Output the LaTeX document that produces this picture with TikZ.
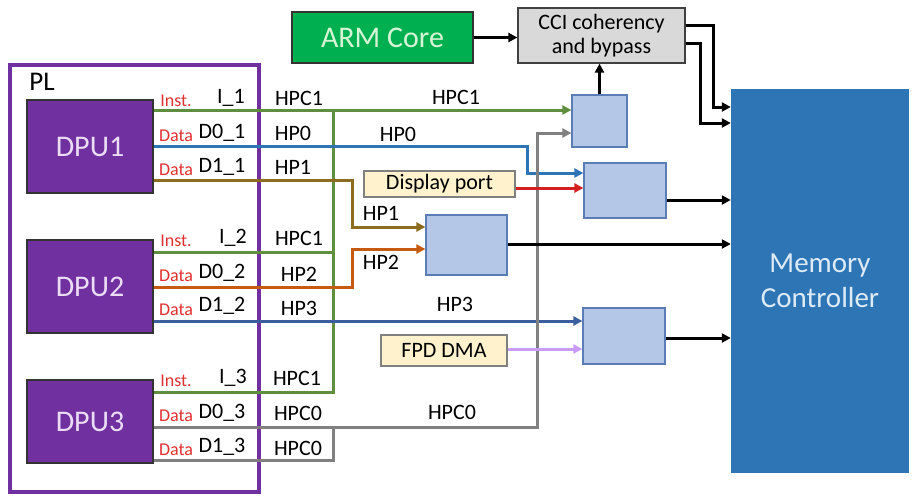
\documentclass[tikz,border=0pt]{standalone}
\usepackage{fontspec}
\setmainfont{Carlito}
\usetikzlibrary{arrows.meta}
\definecolor{plpurple}{HTML}{7030A0}
\definecolor{dputext}{HTML}{EBDDF5}
\definecolor{tagred}{HTML}{E03030}
\definecolor{wgreen}{HTML}{5E8E3E}
\definecolor{wblue}{HTML}{2E75B6}
\definecolor{wblue2}{HTML}{3A5E9E}
\definecolor{wbrown}{HTML}{8C6D1F}
\definecolor{worange}{HTML}{C55A11}
\definecolor{wgray}{HTML}{808080}
\definecolor{wred}{HTML}{D42020}
\definecolor{wlav}{HTML}{C89BF5}
\definecolor{sfill}{HTML}{B4C7E7}
\definecolor{sdraw}{HTML}{5B7DB5}
\definecolor{memfill}{HTML}{2E75B6}
\definecolor{memtext}{HTML}{DDEBF7}
\definecolor{armfill}{HTML}{00B050}
\definecolor{armtext}{HTML}{D5F5D5}
\definecolor{ccifill}{HTML}{D9D9D9}
\definecolor{yfill}{HTML}{FFF2CC}
\tikzset{
  lbl/.style={font=\fontsize{22}{25}\selectfont, inner sep=0pt},
  tag/.style={font=\fontsize{18}{21}\selectfont, text=tagred, inner sep=0pt},
  sbox/.style={draw=sdraw, fill=sfill, line width=1.2pt, inner sep=0pt},
  dpubox/.style={draw=black!80, fill=plpurple, line width=1.2pt, text=dputext,
    font=\fontsize{30}{34}\selectfont, minimum width=126pt},
  ybox/.style={draw=wgray, fill=yfill, line width=1.2pt, inner sep=0pt,
    font=\fontsize{22}{26}\selectfont},
  wire/.style={line width=3pt},
  arr/.style={-{Triangle[length=9pt,width=9pt]}},
}
\begin{document}
\begin{tikzpicture}[x=1pt,y=-1pt]
\useasboundingbox (0,0) rectangle (913,498);
% PL frame
\node[draw=plpurple, line width=4pt, minimum width=249pt, minimum height=427pt, inner sep=0pt] (pl) at (134.5,278.5) {};
\node[font=\fontsize{27}{30}\selectfont, inner sep=0pt] (pllbl) at (42,82) {PL};
% DPUs
\node[dpubox, minimum height=93pt] (dpu1) at (90,146.5) {DPU1};
\node[dpubox, minimum height=93pt] (dpu2) at (90,286.5) {DPU2};
\node[dpubox, minimum height=83pt] (dpu3) at (90,421.5) {DPU3};
% top blocks
\node[draw=black!80, fill=armfill, line width=1.2pt, text=armtext, font=\fontsize{30}{34}\selectfont,
  minimum width=181pt, minimum height=51pt, inner sep=0pt] (arm) at (382.5,37.5) {ARM Core};
\node[draw=black!75, fill=ccifill, line width=1.2pt, font=\fontsize{22}{24}\selectfont, align=center,
  minimum width=167pt, minimum height=55pt, inner sep=0pt] (cci) at (601.5,35.5) {CCI coherency\\and bypass};
% memory controller
\node[fill=memfill, text=memtext, font=\fontsize{29}{35}\selectfont, align=center,
  minimum width=178pt, minimum height=384pt, inner sep=0pt] (mem) at (820,281) {Memory\\Controller};
% small port boxes
\node[sbox, minimum width=55pt, minimum height=52pt] (boxA) at (599.5,121) {};
\node[sbox, minimum width=82pt, minimum height=55pt] (boxB) at (625,190.5) {};
\node[sbox, minimum width=81pt, minimum height=60pt] (boxC) at (466.5,245) {};
\node[sbox, minimum width=82pt, minimum height=56pt] (boxD) at (624,336) {};
% yellow sources
\node[ybox, minimum width=151pt, minimum height=26pt] (dp) at (439.5,184) {Display port};
\node[ybox, minimum width=126pt, minimum height=31pt] (fpd) at (444,350.5) {FPD DMA};
% junction coordinates
\coordinate (gj1) at (333,110);
\coordinate (gj3) at (333,392);
\coordinate (gj2) at (333,252);
\coordinate (bj1) at (527,146);
\coordinate (bj2) at (527,173);
\coordinate (hp1a) at (352,180);
\coordinate (hp1b) at (352,227);
\coordinate (hp2a) at (352,287);
\coordinate (hp2b) at (352,249);
\coordinate (gy1) at (537,427);
\coordinate (gy2) at (537,133);
\coordinate (gy3) at (333,460);
\coordinate (gy4) at (333,427);
% green HPC1
\draw[wire, wgreen, arr] (dpu1.east |- gj1) -- (boxA.west |- gj1);
\draw[wire, wgreen] (dpu2.east |- gj2) -- (gj2);
\draw[wire, wgreen] (dpu3.east |- gj3) -- (gj3) -- (gj1);
% blue HP0
\draw[wire, wblue, arr] (dpu1.east |- bj1) -- (bj1) -- (bj2) -- (boxB.west |- bj2);
% brown HP1
\draw[wire, wbrown, arr] (dpu1.east |- hp1a) -- (hp1a) -- (hp1b) -- (boxC.west |- hp1b);
% orange HP2
\draw[wire, worange, arr] (dpu2.east |- hp2a) -- (hp2a) -- (hp2b) -- (boxC.west |- hp2b);
% blue HP3
\coordinate (hp3) at (0,321);
\draw[wire, wblue2, arr] (dpu2.east |- hp3) -- (boxD.west |- hp3);
% gray HPC0
\draw[wire, wgray, arr] (dpu3.east |- gy1) -- (gy1) -- (gy2) -- (boxA.west |- gy2);
\draw[wire, wgray] (dpu3.east |- gy3) -- (gy3) -- (gy4);
% display port and FPD
\coordinate (dpy) at (0,188);
\draw[wire, wred, arr] (dp.east |- dpy) -- (boxB.west |- dpy);
\coordinate (fpy) at (0,349);
\draw[wire, wlav, arr] (fpd.east |- fpy) -- (boxD.west |- fpy);
% black connectors
\draw[wire, black, arr] (arm.east) -- (cci.west |- arm.east);
\draw[wire, black, arr] (boxA.north) -- (boxA.north |- cci.south);
\coordinate (c1a) at (713,25);
\coordinate (c1b) at (713,107);
\coordinate (c2a) at (700,43);
\coordinate (c2b) at (700,123);
\draw[wire, black, arr] (cci.east |- c1a) -- (c1a) -- (c1b) -- (mem.west |- c1b);
\draw[wire, black, arr] (cci.east |- c2a) -- (c2a) -- (c2b) -- (mem.west |- c2b);
\coordinate (ob) at (0,200);
\coordinate (oc) at (0,244);
\coordinate (od) at (0,338);
\draw[wire, black, arr] (boxB.east |- ob) -- (mem.west |- ob);
\draw[wire, black, arr] (boxC.east |- oc) -- (mem.west |- oc);
\draw[wire, black, arr] (boxD.east |- od) -- (mem.west |- od);
% DPU port labels
\node[tag] (t11) at (176,101) {Inst.};
\node[lbl] (n11) at (231,98) {I\_1};
\node[lbl] (h11) at (299,98) {HPC1};
\node[tag] (t12) at (176,136) {Data};
\node[lbl] (n12) at (222,133) {D0\_1};
\node[lbl] (h12) at (293,133) {HP0};
\node[tag] (t13) at (176,170) {Data};
\node[lbl] (n13) at (222,167) {D1\_1};
\node[lbl] (h13) at (293,167) {HP1};
\node[tag] (t21) at (176,241) {Inst.};
\node[lbl] (n21) at (233,238) {I\_2};
\node[lbl] (h21) at (299,238) {HPC1};
\node[tag] (t22) at (176,276) {Data};
\node[lbl] (n22) at (222,273) {D0\_2};
\node[lbl] (h22) at (299,274) {HP2};
\node[tag] (t23) at (176,310) {Data};
\node[lbl] (n23) at (222,306) {D1\_2};
\node[lbl] (h23) at (299,308) {HP3};
\node[tag] (t31) at (176,381) {Inst.};
\node[lbl] (n31) at (233,378) {I\_3};
\node[lbl] (h31) at (297,378) {HPC1};
\node[tag] (t32) at (176,416) {Data};
\node[lbl] (n32) at (222,413) {D0\_3};
\node[lbl] (h32) at (298,413) {HPC0};
\node[tag] (t33) at (176,450) {Data};
\node[lbl] (n33) at (222,447) {D1\_3};
\node[lbl] (h33) at (298,448) {HPC0};
% route labels
\node[lbl] (r1) at (456,97) {HPC1};
\node[lbl] (r2) at (398,134) {HP0};
\node[lbl] (r3) at (381,213) {HP1};
\node[lbl] (r4) at (381,262) {HP2};
\node[lbl] (r5) at (455,304) {HP3};
\node[lbl] (r6) at (452,412) {HPC0};
\end{tikzpicture}
\end{document}
